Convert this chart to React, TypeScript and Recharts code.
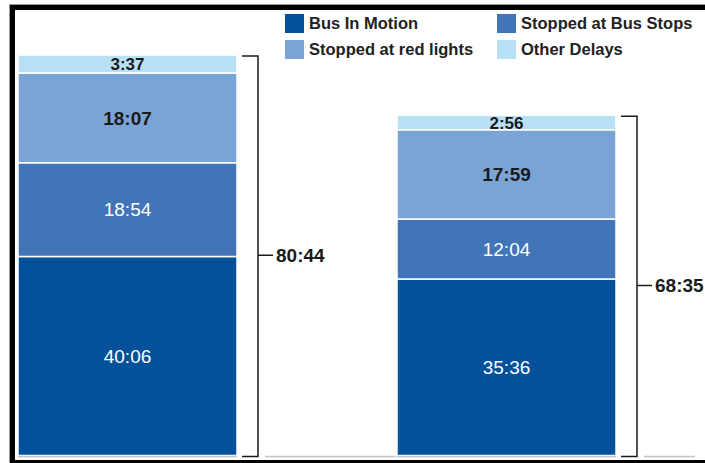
import { Bar, BarChart, LabelList, Legend, XAxis, YAxis } from "recharts";

const trips = ["Trip A", "Trip B"];
// durations in seconds (shown as m:ss)
const inMotion = [2406, 2136];
const atBusStops = [1134, 724];
const atRedLights = [1087, 1079];
const otherDelays = [217, 176];
const seriesNames = ["Bus In Motion", "Stopped at Bus Stops", "Stopped at red lights", "Other Delays"];

const data = trips.map((trip, i) => ({
  trip,
  motion: inMotion[i],
  stops: atBusStops[i],
  lights: atRedLights[i],
  other: otherDelays[i],
}));

const fmt = (s: number) => `${Math.floor(s / 60)}:${String(s % 60).padStart(2, "0")}`;

const FONT = "'Liberation Sans', Arial, sans-serif";
const SHIFT = 62; // chart sits a bit left so the two bands line up with the bars
const W = 780;
const H = 463;
const MARGIN = { top: 9, right: 22, bottom: 7.5, left: 0 };
const BOTTOM = H - MARGIN.bottom;
const PLOT_RIGHT = W - MARGIN.right;
const BAND = (W - MARGIN.left - MARGIN.right) / trips.length;

function Bracket(props: any) {
  const vb = props.viewBox ?? props;
  const { x, y, width } = vb;
  const i = props.index ?? 0;
  const total = inMotion[i] + atBusStops[i] + atRedLights[i] + otherDelays[i];
  const r = x + width;
  const base = BOTTOM + 1;
  const mid = (y + BOTTOM) / 2;
  const end = Math.min(x + BAND, PLOT_RIGHT) - 1;
  return (
    <g>
      <path
        d={`M${x} ${base}H${r}M${r + 28} ${base}H${end}`}
        stroke="#c4c4c4"
        strokeWidth={1.5}
        fill="none"
      />
      <path
        d={`M${r + 5} ${y + 1}H${r + 21}V${base}H${r + 5}M${r + 21} ${mid}H${r + 36}`}
        stroke="#1a1a1a"
        strokeWidth={1.5}
        fill="none"
      />
      <text
        x={r + 39}
        y={mid}
        dominantBaseline="central"
        fontSize={19}
        fontWeight={700}
        fill="#1a1a1a"
      >
        {fmt(total)}
      </text>
    </g>
  );
}

function LegendGrid({ payload }: any) {
  const items = [...(payload ?? [])].sort(
    (a: any, b: any) => seriesNames.indexOf(a.value) - seriesNames.indexOf(b.value)
  );
  return (
    <div
      style={{
        display: "grid",
        gridTemplateColumns: "212px 212px",
        rowGap: 7,
        fontFamily: FONT,
        fontSize: 16.5,
        fontWeight: 700,
        color: "#222",
      }}
    >
      {items.map((p: any) => (
        <div key={p.value} style={{ display: "flex", alignItems: "center", height: 19 }}>
          <span style={{ width: 19, height: 19, background: p.color, marginRight: 5 }} />
          <span style={{ whiteSpace: "nowrap" }}>{p.value}</span>
        </div>
      ))}
    </div>
  );
}

export default function App() {
  return (
    <div
      style={{
        position: "absolute",
        left: 0,
        top: 0,
        width: 705,
        height: 463,
        overflow: "hidden",
        background: "#fff",
        fontFamily: FONT,
      }}
    >
      <div style={{ position: "absolute", left: -SHIFT, top: 0 }}>
        <BarChart width={W} height={H} data={data} margin={MARGIN} barCategoryGap={80}>
          <XAxis dataKey="trip" hide />
          <YAxis hide domain={[0, 5400]} />
          <Legend
            layout="vertical"
            align="center"
            verticalAlign="middle"
            wrapperStyle={{ top: 14, left: 285 + SHIFT, width: 430 }}
            content={<LegendGrid />}
          />
          <Bar
            dataKey="motion"
            name={seriesNames[0]}
            stackId="t"
            fill="#02519a"
            stroke="#fff"
            strokeWidth={1.5}
            isAnimationActive={false}
          >
            <LabelList dataKey="motion" position="center" formatter={fmt} fill="#fff" fontSize={19} />
          </Bar>
          <Bar
            dataKey="stops"
            name={seriesNames[1]}
            stackId="t"
            fill="#4274b8"
            stroke="#fff"
            strokeWidth={1.5}
            isAnimationActive={false}
          >
            <LabelList dataKey="stops" position="center" formatter={fmt} fill="#fff" fontSize={19} />
          </Bar>
          <Bar
            dataKey="lights"
            name={seriesNames[2]}
            stackId="t"
            fill="#7ba4d6"
            stroke="#fff"
            strokeWidth={1.5}
            isAnimationActive={false}
          >
            <LabelList
              dataKey="lights"
              position="center"
              formatter={fmt}
              fill="#1a1a1a"
              fontSize={19}
              fontWeight={700}
            />
          </Bar>
          <Bar
            dataKey="other"
            name={seriesNames[3]}
            stackId="t"
            fill="#b9e1f6"
            stroke="#fff"
            strokeWidth={1.5}
            isAnimationActive={false}
          >
            <LabelList
              dataKey="other"
              position="center"
              formatter={fmt}
              fill="#1a1a1a"
              fontSize={17}
              fontWeight={700}
            />
            <LabelList dataKey="other" content={<Bracket />} />
          </Bar>
        </BarChart>
      </div>
      {/* black frame */}
      <div
        style={{
          position: "absolute",
          left: 10,
          top: 5,
          width: 760,
          height: 460,
          boxSizing: "border-box",
          border: "5px solid #000",
          boxShadow: "0 0 0 1px #9a9a9a",
        }}
      />
    </div>
  );
}
